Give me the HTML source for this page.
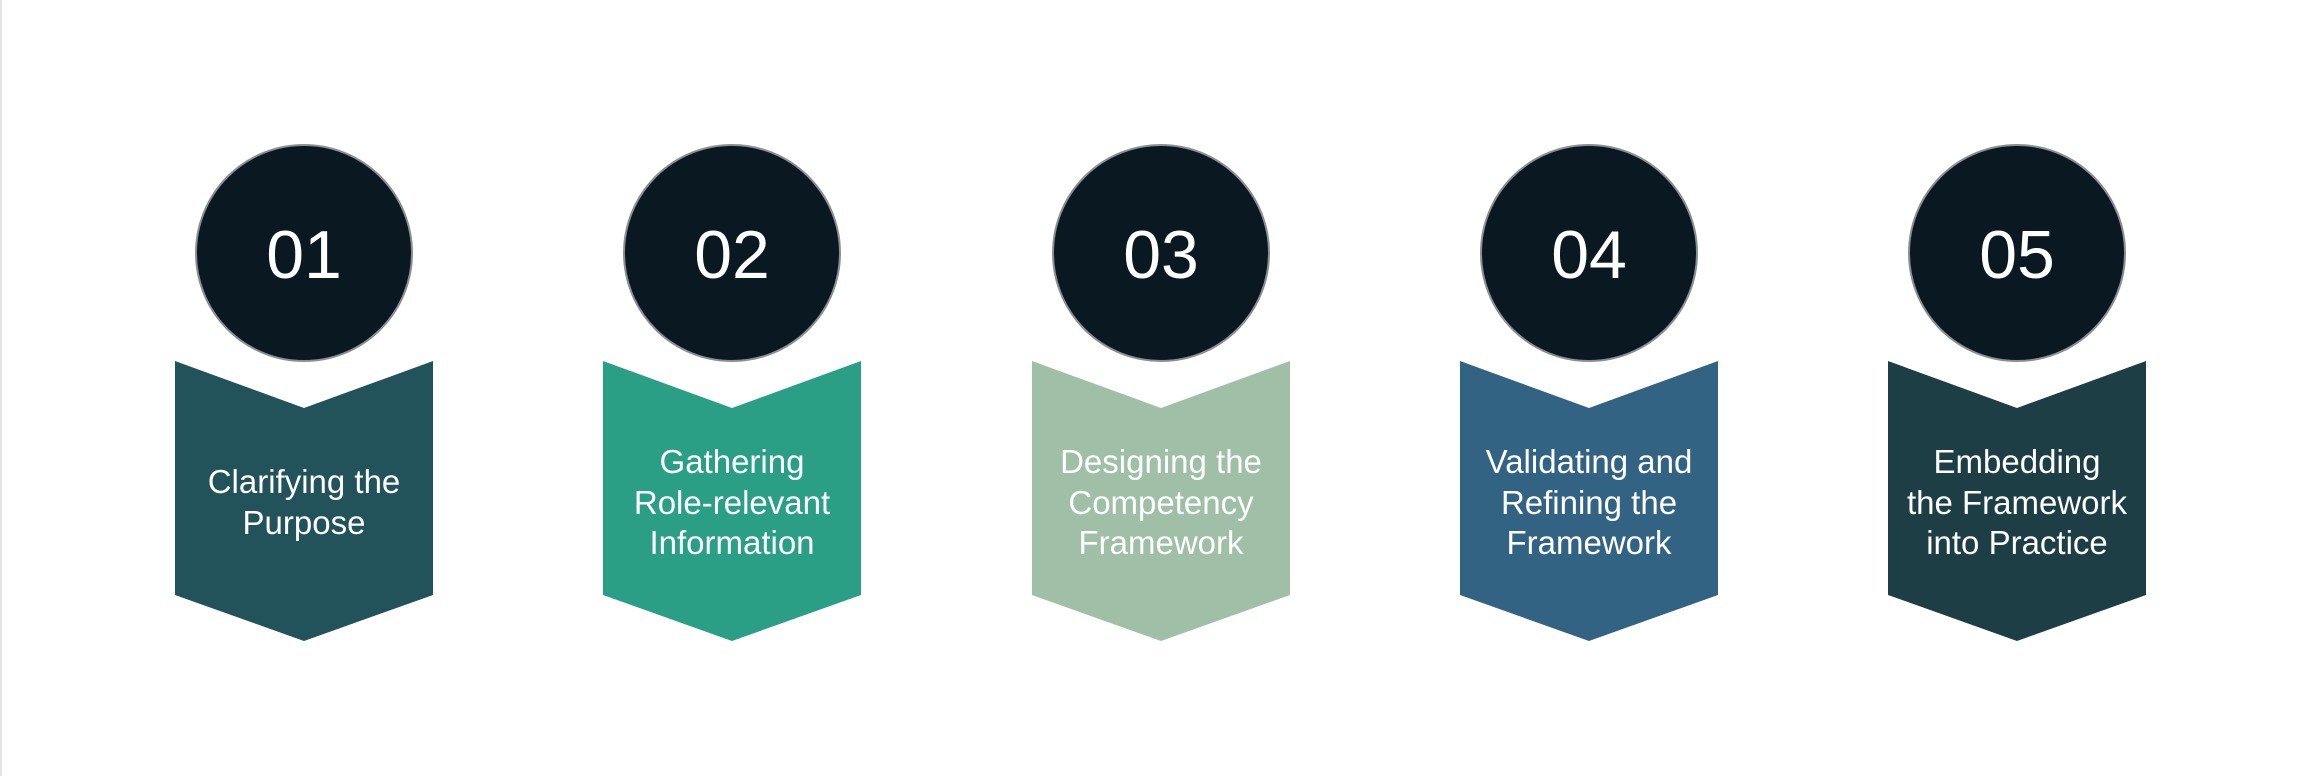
<!DOCTYPE html>
<html><head><meta charset="utf-8"><style>
html,body{margin:0;padding:0;background:#fff;}
svg{display:block;}
</style></head><body>
<svg width="2320" height="776" viewBox="0 0 2320 776" xmlns="http://www.w3.org/2000/svg">
<rect x="0" y="0" width="2320" height="776" fill="#fff"/>
<line x1="1" y1="0" x2="1" y2="776" stroke="#e4e4e4" stroke-width="2"/>
<g font-family="'Liberation Sans', sans-serif" text-anchor="middle">
<g transform="translate(304,0)">
<polygon points="-129,361 0,408 129,361 129,595 0,641 -129,595" fill="#22525a"/>
<circle cx="0" cy="253" r="108" fill="#0a1821" stroke="#8a8f92" stroke-width="2"/>
<text x="0" y="278" font-size="68" fill="#fff">01</text>
<text font-size="33" fill="#fff"><tspan x="0" y="493">Clarifying the</tspan><tspan x="0" y="534">Purpose</tspan></text>
</g>
<g transform="translate(732,0)">
<polygon points="-129,361 0,408 129,361 129,595 0,641 -129,595" fill="#2a9f86"/>
<circle cx="0" cy="253" r="108" fill="#0a1821" stroke="#8a8f92" stroke-width="2"/>
<text x="0" y="278" font-size="68" fill="#fff">02</text>
<text font-size="33" fill="#fff"><tspan x="0" y="473">Gathering</tspan><tspan x="0" y="514">Role-relevant</tspan><tspan x="0" y="554">Information</tspan></text>
</g>
<g transform="translate(1161,0)">
<polygon points="-129,361 0,408 129,361 129,595 0,641 -129,595" fill="#9fbfa6"/>
<circle cx="0" cy="253" r="108" fill="#0a1821" stroke="#8a8f92" stroke-width="2"/>
<text x="0" y="278" font-size="68" fill="#fff">03</text>
<text font-size="33" fill="#fff"><tspan x="0" y="473">Designing the</tspan><tspan x="0" y="514">Competency</tspan><tspan x="0" y="554">Framework</tspan></text>
</g>
<g transform="translate(1589,0)">
<polygon points="-129,361 0,408 129,361 129,595 0,641 -129,595" fill="#336382"/>
<circle cx="0" cy="253" r="108" fill="#0a1821" stroke="#8a8f92" stroke-width="2"/>
<text x="0" y="278" font-size="68" fill="#fff">04</text>
<text font-size="33" fill="#fff"><tspan x="0" y="473">Validating and</tspan><tspan x="0" y="514">Refining the</tspan><tspan x="0" y="554">Framework</tspan></text>
</g>
<g transform="translate(2017,0)">
<polygon points="-129,361 0,408 129,361 129,595 0,641 -129,595" fill="#1d3e44"/>
<circle cx="0" cy="253" r="108" fill="#0a1821" stroke="#8a8f92" stroke-width="2"/>
<text x="0" y="278" font-size="68" fill="#fff">05</text>
<text font-size="33" fill="#fff"><tspan x="0" y="473">Embedding</tspan><tspan x="0" y="514">the Framework</tspan><tspan x="0" y="554">into Practice</tspan></text>
</g>
</g>
</svg>
</body></html>
